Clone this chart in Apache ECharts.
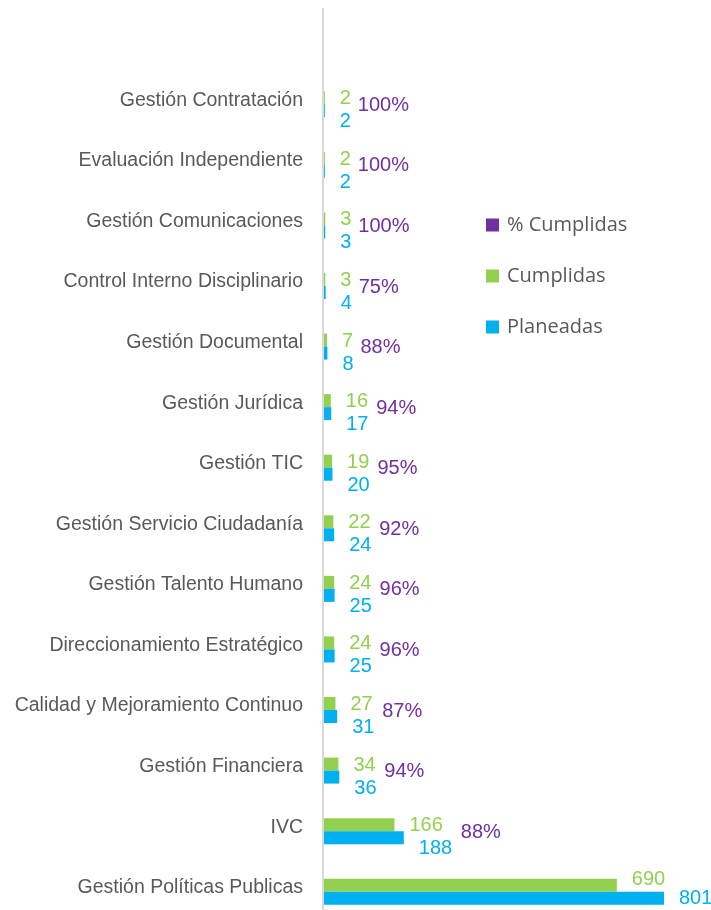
<!DOCTYPE html>
<html>
<head>
<meta charset="utf-8">
<script src="https://cdn.jsdelivr.net/npm/echarts@6/dist/echarts.min.js"></script>
<style>
  html, body { margin: 0; padding: 0; background: #fff; }
  #chart { width: 711px; height: 910px; }
</style>
</head>
<body>
<div id="chart"></div>
<script>
  const categorias = [
    'Gestión Contratación', 'Evaluación Independiente', 'Gestión Comunicaciones',
    'Control Interno Disciplinario', 'Gestión Documental', 'Gestión Jurídica',
    'Gestión TIC', 'Gestión Servicio Ciudadanía', 'Gestión Talento Humano',
    'Direccionamiento Estratégico', 'Calidad y Mejoramiento Continuo',
    'Gestión Financiera', 'IVC', 'Gestión Políticas Publicas'
  ]
  const cumplidas = [2, 2, 3, 3, 7, 16, 19, 22, 24, 24, 27, 34, 166, 690]
  const planeadas = [2, 2, 3, 4, 8, 17, 20, 24, 25, 25, 31, 36, 188, 801]
  // el último no se ve en la imagen
  const porcentajes = [100, 100, 100, 75, 88, 94, 95, 92, 96, 96, 87, 94, 88, null]

  const verde = '#92d050'
  const azul = '#00b0f0'
  const morado = '#7030a0'
  const fuente = '"Liberation Sans", Arial, sans-serif'

  const chart = echarts.init(document.getElementById('chart'))

  // la barra más larga lleva sus etiquetas pegadas al final, sin separarlas
  const ultimo = categorias.length - 1
  const conOffset = (arr, normal, largo) => arr.map((v, i) => ({
    value: v,
    label: { offset: i === ultimo ? largo : normal }
  }))

  const option = {
    animation: false,
    grid: { left: 324, right: 5, top: 74, height: 848, outerBoundsMode: 'none' },
    legend: {
      orient: 'vertical',
      left: 481,
      top: 208,
      icon: 'rect',
      itemWidth: 13,
      itemHeight: 13,
      itemGap: 27,
      textStyle: {
        fontFamily: '"Open Sans", sans-serif', fontSize: 20, color: '#595959',
        lineHeight: 24, padding: [0, 0, 0, 3]
      },
      data: [
        { name: '% Cumplidas', itemStyle: { color: morado } },
        'Cumplidas',
        'Planeadas'
      ]
    },
    xAxis: { type: 'value', min: 0, max: 900, show: false },
    yAxis: [
      {
        type: 'category',
        inverse: true,
        data: categorias,
        axisLine: { show: false },
        axisTick: { show: false },
        axisLabel: {
          margin: 21,
          fontFamily: fuente,
          fontSize: 19.5,
          color: '#595959',
          verticalAlign: 'bottom',
          lineHeight: 8
        }
      },
      { type: 'category', inverse: true, data: categorias, show: false }
    ],
    graphic: [
      {
        type: 'line',
        shape: { x1: 323, y1: 8, x2: 323, y2: 910 },
        style: { stroke: '#d9d9d9', lineWidth: 2 }
      }
    ],
    series: [
      {
        name: 'Cumplidas',
        type: 'bar',
        yAxisIndex: 0,
        barWidth: 13,
        barGap: '0%',
        itemStyle: { color: verde },
        label: {
          show: true, position: 'right', distance: 15,
          fontFamily: fuente, fontSize: 20, color: verde
        },
        data: conOffset(cumplidas, [0, 1], [0, -6])
      },
      {
        name: 'Planeadas',
        type: 'bar',
        yAxisIndex: 0,
        barWidth: 13,
        barGap: '0%',
        itemStyle: { color: azul },
        label: {
          show: true, position: 'right', distance: 15,
          fontFamily: fuente, fontSize: 20, color: azul
        },
        data: conOffset(planeadas, [0, 11], [0, 0])
      },
      {
        name: '% Cumplidas',
        type: 'bar',
        yAxisIndex: 1,
        barWidth: 2,
        itemStyle: { color: 'rgba(0,0,0,0)' },
        label: {
          show: true, position: 'right', distance: 0,
          fontFamily: fuente, fontSize: 20, color: morado,
          formatter: p => porcentajes[p.dataIndex] == null ? '' : porcentajes[p.dataIndex] + '%'
        },
        data: planeadas.map((v, i) => ({
          value: v,
          label: { offset: [21 + 12 * String(Math.max(v, cumplidas[i])).length, 1] }
        }))
      }
    ]
  }

  chart.setOption(option)
</script>
</body>
</html>
